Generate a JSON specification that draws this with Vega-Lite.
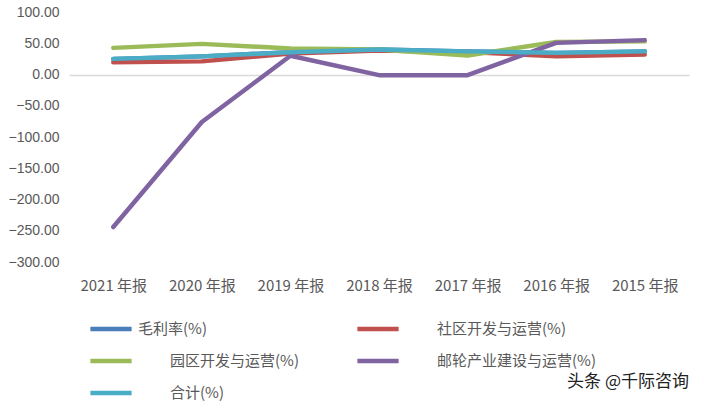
{
  "$schema": "https://vega.github.io/schema/vega-lite/v6.json",
  "width": 620,
  "height": 250,
  "autosize": "none",
  "padding": {"left": 69, "top": 12, "right": 15, "bottom": 147},
  "background": "white",
  "config": {"view": {"stroke": null}, "font": "Noto Sans CJK SC", "axisY": {"labelOverlap": false, "tickCount": 9}},
  "title": {"text": "头条 @千际咨询", "orient": "bottom", "anchor": "end", "fontSize": 17, "fontWeight": "normal", "color": "#222222", "offset": -28, "font": "Noto Sans CJK SC"},
  "data": {"values": [
    {"year": "2021 年报", "series": "毛利率(%)", "value": 25},
    {"year": "2020 年报", "series": "毛利率(%)", "value": 29},
    {"year": "2019 年报", "series": "毛利率(%)", "value": 35.7},
    {"year": "2018 年报", "series": "毛利率(%)", "value": 40},
    {"year": "2017 年报", "series": "毛利率(%)", "value": 37},
    {"year": "2016 年报", "series": "毛利率(%)", "value": 34.6},
    {"year": "2015 年报", "series": "毛利率(%)", "value": 37},
    {"year": "2021 年报", "series": "社区开发与运营(%)", "value": 19.7},
    {"year": "2020 年报", "series": "社区开发与运营(%)", "value": 21},
    {"year": "2019 年报", "series": "社区开发与运营(%)", "value": 33.6},
    {"year": "2018 年报", "series": "社区开发与运营(%)", "value": 38.4},
    {"year": "2017 年报", "series": "社区开发与运营(%)", "value": 36},
    {"year": "2016 年报", "series": "社区开发与运营(%)", "value": 29},
    {"year": "2015 年报", "series": "社区开发与运营(%)", "value": 32},
    {"year": "2021 年报", "series": "园区开发与运营(%)", "value": 42.6},
    {"year": "2020 年报", "series": "园区开发与运营(%)", "value": 49},
    {"year": "2019 年报", "series": "园区开发与运营(%)", "value": 41.6},
    {"year": "2018 年报", "series": "园区开发与运营(%)", "value": 40},
    {"year": "2017 年报", "series": "园区开发与运营(%)", "value": 30.4},
    {"year": "2016 年报", "series": "园区开发与运营(%)", "value": 52},
    {"year": "2015 年报", "series": "园区开发与运营(%)", "value": 53},
    {"year": "2021 年报", "series": "邮轮产业建设与运营(%)", "value": -244},
    {"year": "2020 年报", "series": "邮轮产业建设与运营(%)", "value": -76},
    {"year": "2019 年报", "series": "邮轮产业建设与运营(%)", "value": 30},
    {"year": "2018 年报", "series": "邮轮产业建设与运营(%)", "value": -1},
    {"year": "2017 年报", "series": "邮轮产业建设与运营(%)", "value": -1},
    {"year": "2016 年报", "series": "邮轮产业建设与运营(%)", "value": 50.6},
    {"year": "2015 年报", "series": "邮轮产业建设与运营(%)", "value": 55},
    {"year": "2021 年报", "series": "合计(%)", "value": 25},
    {"year": "2020 年报", "series": "合计(%)", "value": 29},
    {"year": "2019 年报", "series": "合计(%)", "value": 35.7},
    {"year": "2018 年报", "series": "合计(%)", "value": 40},
    {"year": "2017 年报", "series": "合计(%)", "value": 37},
    {"year": "2016 年报", "series": "合计(%)", "value": 34.6},
    {"year": "2015 年报", "series": "合计(%)", "value": 37}
  ]},
  "mark": {"type": "line", "strokeWidth": 4.5, "strokeCap": "round", "strokeJoin": "round"},
  "encoding": {
    "x": {
      "field": "year", "type": "ordinal",
      "sort": ["2021 年报", "2020 年报", "2019 年报", "2018 年报", "2017 年报", "2016 年报", "2015 年报"],
      "scale": {"type": "point", "padding": 0.5},
      "axis": {"title": null, "domain": false, "ticks": false, "labelAngle": 0, "labelFontSize": 15, "labelColor": "#595959", "labelPadding": 16, "labelFont": "Noto Sans CJK SC"}
    },
    "y": {
      "field": "value", "type": "quantitative",
      "scale": {"domain": [-300, 100], "nice": false, "zero": false},
      "axis": {"title": null, "domain": false, "ticks": false, "grid": true, "gridWidth": 1.5,
        "gridColor": {"condition": {"test": "datum.value === 0", "value": "#d9d9d9"}, "value": "transparent"},
        "labelOverlap": false, "labelBound": false, "labelFlush": false, "tickCount": 9, "values": [-300, -250, -200, -150, -100, -50, 0, 50, 100], "format": ".2f", "labelFontSize": 14, "labelColor": "#595959", "labelPadding": 10, "labelFont": "Liberation Sans"}
    },
    "color": {
      "field": "series", "type": "nominal",
      "scale": {
        "domain": ["毛利率(%)", "社区开发与运营(%)", "园区开发与运营(%)", "邮轮产业建设与运营(%)", "合计(%)"],
        "range": ["#4A7EBB", "#C0504D", "#9BBB59", "#8064A2", "#4BACC6"]
      },
      "legend": {
        "title": null, "orient": "none", "legendX": 19, "legendY": 294,
        "columns": 2, "direction": "horizontal",
        "symbolType": "stroke", "symbolSize": 1700, "symbolStrokeWidth": 4.5,
        "labelFontSize": 15, "labelColor": "#595959", "labelFont": "Noto Sans CJK SC",
        "labelOffset": 4, "rowPadding": -4, "columnPadding": 49, "labelLimit": 400,
        "encode": {"labels": {"update": {"dx": {"signal": "datum.label == '毛利率(%)' ? 0 : 32"}}}}
      }
    },
    "order": {"field": "series"}
  }
}
